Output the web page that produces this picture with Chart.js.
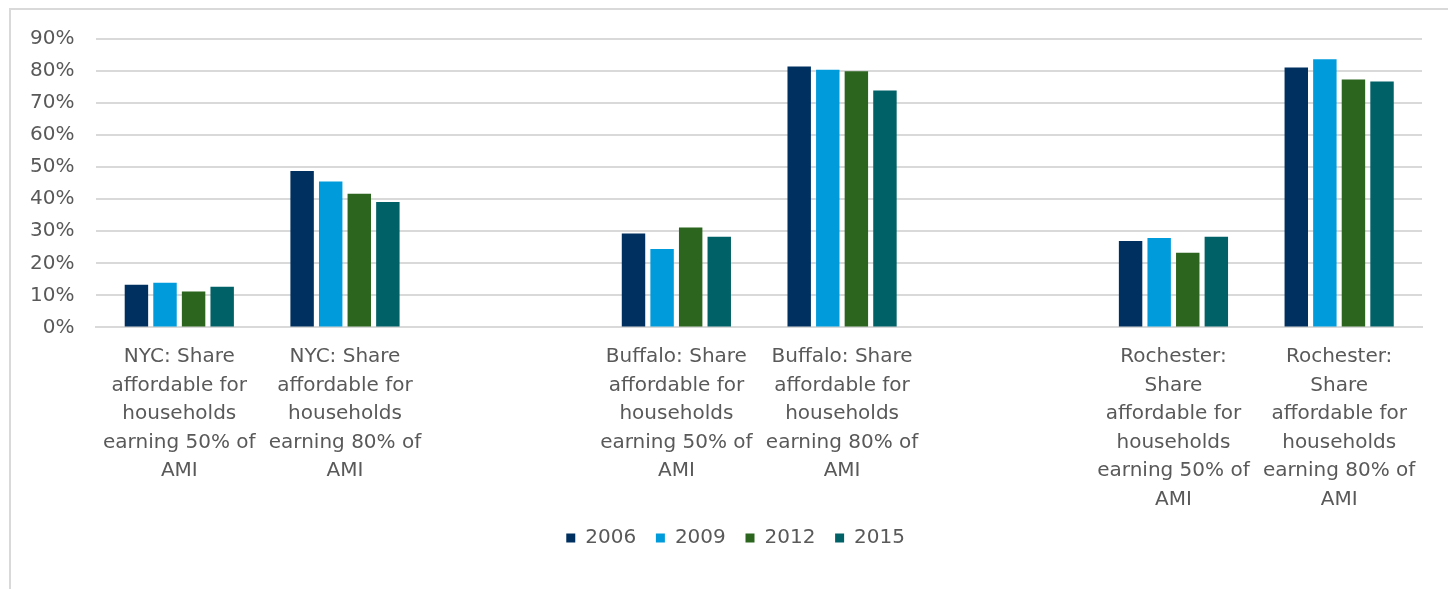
<!DOCTYPE html>
<html>
<head>
<meta charset="utf-8">
<script src="https://cdn.jsdelivr.net/npm/chart.js@4/dist/chart.umd.min.js"></script>
<style>
  html, body { margin: 0; padding: 0; background: #fff; }
  #wrap { position: relative; width: 1448px; height: 589px; }
  #frame { position: absolute; left: 9px; top: 8px; right: 0; bottom: 0;
           border-left: 2px solid #d9d9d9; border-top: 2px solid #d9d9d9; }
  #bars { position: absolute; left: 0; top: 0; }
</style>
</head>
<body>
<div id="wrap">
  <div id="frame"></div>
  <canvas id="bars" width="1448" height="589"></canvas>
</div>
<script>
var categories = [
  ['NYC: Share', 'affordable for', 'households', 'earning 50% of', 'AMI'],
  ['NYC: Share', 'affordable for', 'households', 'earning 80% of', 'AMI'],
  '',
  ['Buffalo: Share', 'affordable for', 'households', 'earning 50% of', 'AMI'],
  ['Buffalo: Share', 'affordable for', 'households', 'earning 80% of', 'AMI'],
  '',
  ['Rochester:', 'Share', 'affordable for', 'households', 'earning 50% of', 'AMI'],
  ['Rochester:', 'Share', 'affordable for', 'households', 'earning 80% of', 'AMI']
];
var years = ['2006', '2009', '2012', '2015'];
var v2006 = [13.3, 48.8, null, 29.3, 81.4, null, 27.0, 81.1];
var v2009 = [13.9, 45.5, null, 24.5, 80.4, null, 27.9, 83.7];
var v2012 = [11.2, 41.7, null, 31.2, 79.9, null, 23.3, 77.4];
var v2015 = [12.7, 39.1, null, 28.3, 73.9, null, 28.3, 76.7];
var colors = ['#003060', '#009bdb', '#2b651e', '#006166'];

var series = [v2006, v2009, v2012, v2015];
var font = 'DejaVu Sans';

// nudge the legend a bit to the right, like the original
var legendShift = {
  id: 'legendShift',
  afterLayout: function(chart) {
    chart.legend.left += 27;
    chart.legend.right += 27;
  }
};

new Chart(document.getElementById('bars'), {
  type: 'bar',
  data: {
    labels: categories,
    datasets: series.map(function(vals, i) {
      return {
        label: years[i],
        data: vals,
        backgroundColor: colors[i],
        categoryPercentage: 0.69,
        barPercentage: 0.82
      };
    })
  },
  options: {
    responsive: false,
    animation: false,
    layout: { padding: { top: 39, right: 26, bottom: 31, left: 8 } },
    plugins: {
      tooltip: { enabled: false },
      legend: {
        position: 'bottom',
        labels: {
          boxWidth: 9, boxHeight: 9, padding: 7,
          color: '#595959',
          font: { family: font, size: 20 },
          generateLabels: function(chart) {
            var items = Chart.defaults.plugins.legend.labels.generateLabels(chart);
            items.forEach(function(it) { it.text = it.text + '  '; });
            return items;
          }
        }
      }
    },
    scales: {
      x: {
        grid: { display: false },
        border: { color: '#d9d9d9', width: 2 },
        ticks: {
          color: '#595959', maxRotation: 0, autoSkip: false, padding: 7,
          font: { family: font, size: 20, lineHeight: 1.43 }
        }
      },
      y: {
        min: 0, max: 90,
        border: { display: false },
        grid: { color: '#d9d9d9', lineWidth: 2, drawTicks: false },
        ticks: {
          stepSize: 10, padding: 22, color: '#595959',
          font: { family: font, size: 20 },
          callback: function(v) { return v + '%'; }
        }
      }
    }
  },
  plugins: [legendShift]
});
</script>
</body>
</html>
